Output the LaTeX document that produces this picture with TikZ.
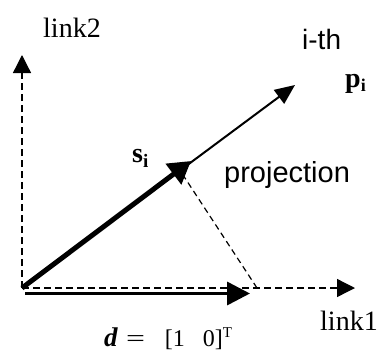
\documentclass[tikz,border=0pt]{standalone}
\usepackage{fontspec}
\setmainfont{Liberation Serif}
\newfontfamily\arialf{Liberation Sans}
\usetikzlibrary{arrows.meta}
\begin{document}
\begin{tikzpicture}[x=1pt,y=-1pt,
  axis/.style={dash pattern=on 7pt off 4pt, line width=1.3pt, -{Triangle[length=18pt,width=18pt]}},
  proj/.style={dash pattern=on 6pt off 4pt, line width=1.2pt},
  lbl/.style={anchor=base west, inner sep=0pt},
  serif/.style={font=\fontsize{28}{28}\selectfont},
  sans/.style={font=\arialf\fontsize{28}{28}\selectfont},
  vecl/.style={font=\bfseries\fontsize{28}{28}\selectfont},
]
\useasboundingbox (0,0) rectangle (379,351);
\coordinate (O) at (22,288);
\coordinate (Y) at (22,55);
\coordinate (X) at (355,288);
\coordinate (P) at (295,85);
\coordinate (S) at (191,161);
\coordinate (D0) at (25,293.5);
\coordinate (D) at (250,293.5);
\coordinate (F) at (257,288);
\coordinate (Q) at (183,175);
\draw[axis] (O) -- (Y);
\draw[axis] (O) -- (X);
\draw[proj] (F) -- (Q);
\draw[line width=2pt, -{Triangle[length=20pt,width=17pt]}] (O) -- (P);
\draw[line width=5pt, -{Triangle[length=22pt,width=25pt]}] (O) -- (S);
\draw[line width=3.5pt, -{Triangle[length=23pt,width=23pt]}] (D0) -- (D);
\node[lbl, serif] (l2) at (43,37) {link2};
\node[lbl, serif] (l1) at (320,330) {link1};
\node[lbl, sans] (ith) at (302,49) {i-th};
\node[lbl, sans, font=\arialf\fontsize{29}{29}\selectfont] (pr) at (224,182) {projection};
\node[lbl, vecl] (pi) at (345,87) {p\raisebox{-4pt}{\fontsize{18}{18}\selectfont i}};
\node[lbl, vecl] (si) at (132,162) {s\raisebox{-5pt}{\fontsize{19}{19}\selectfont i}};
\node[lbl, font=\fontsize{24}{24}\selectfont] (dl) at (104,346)
  {{\fontsize{27}{27}\selectfont\textbf{\textit{d}}}\hspace{8pt}\scalebox{1.4}[1]{=}\hspace{20pt}[1\hspace{18pt}0]\raisebox{9pt}{\fontsize{15}{15}\selectfont T}};
\end{tikzpicture}
\end{document}
